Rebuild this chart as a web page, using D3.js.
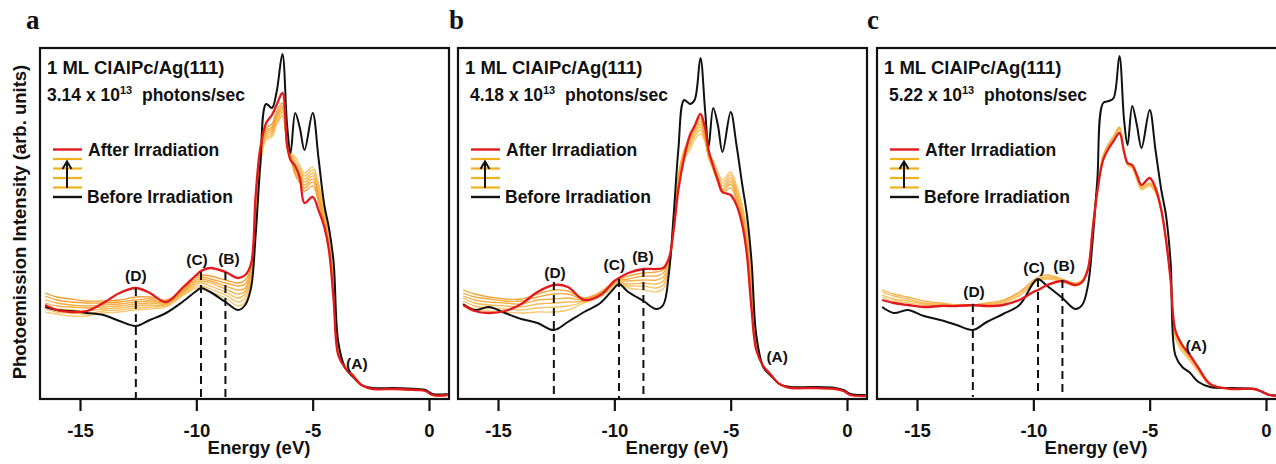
<!DOCTYPE html>
<html><head><meta charset="utf-8">
<script src="https://cdn.jsdelivr.net/npm/d3@7"></script>
<style>
body{margin:0;background:#fff}
svg{display:block}
text{font-family:"Liberation Sans",Arial,Helvetica,sans-serif;font-weight:bold;fill:#111}
text.letter{font-family:"Liberation Serif","Times New Roman",serif}
</style>
</head><body>
<svg id="chart" width="1276" height="464"></svg>
<script>
// ---------------- data ----------------
const energy = [-16.5, -16, -15.4, -14.7, -14, -13.3, -12.6, -12, -11.3, -10.6, -10, -9.8, -9.4, -8.75, -8.2, -7.9, -7.65, -7.45, -7.25, -7.0, -6.75, -6.55, -6.3, -6.1, -5.95, -5.75, -5.55, -5.35, -5.0, -4.75, -4.5, -4.3, -4.1, -3.9, -3.6, -3.3, -2.9, -2.4, -1.5, -0.5, -0.15, 0.15, 0.8];

const panelLetters = ["a", "b", "c"];
const sampleTitle = "1 ML ClAlPc/Ag(111)";
const fluxValues = ["3.14", "4.18", "5.22"];
const fluxExponent = "13";
const fluxUnit = "photons/sec";
const legendLabels = ["After Irradiation", "Before Irradiation"];
const xTicks = [-15, -10, -5, 0];
const xTitle = "Energy (eV)";
const yTitle = "Photoemission Intensity (arb. units)";
const peakNames = ["(D)", "(C)", "(B)"];
const peakEnergies = [-12.6, -9.8, -8.75];

// panel a : 3.14e13
const beforeA = [93, 90, 89, 87, 85, 79, 74, 80, 87, 98, 109, 112, 108, 98, 90, 95, 112, 165, 235, 296, 292, 308, 346, 275, 247, 287, 272, 250, 287, 242, 195, 172, 138, 58, 32, 24, 15, 12, 12, 11, 10, 6, 6];
const afterA = [95, 90, 88, 89, 97, 107, 112, 107, 98, 112, 125, 129, 132, 128, 122, 125, 136, 205, 252, 277, 285, 295, 307, 255, 240, 234, 222, 197, 203, 190, 173, 150, 100, 45, 32, 25, 15, 11, 11, 10, 9, 5, 5];
const midA1 = [88, 86, 84, 84, 87, 88, 90, 91, 93, 104, 112, 111, 108, 102, 94, 98, 115, 178, 235, 260, 263, 275, 283, 258, 248, 243, 235, 227, 233, 217, 193, 162, 128, 52, 32, 25, 15, 11, 11, 10, 9, 5, 5];
const midA2 = [91, 88, 87, 86, 89, 90, 92, 93, 94, 105, 114, 114, 111, 105, 98, 102, 118, 182, 237, 262, 265, 277, 285, 257, 247, 240, 232, 224, 230, 214, 190, 160, 123, 50, 32, 25, 15, 11, 11, 10, 9, 5, 5];
const midA3 = [94, 91, 90, 89, 91, 92, 94, 95, 95, 106, 116, 117, 114, 108, 102, 106, 121, 186, 239, 264, 267, 279, 288, 256, 246, 237, 229, 221, 227, 211, 187, 158, 118, 49, 32, 26, 15, 11, 11, 10, 9, 5, 5];
const midA4 = [97, 94, 93, 92, 93, 94, 96, 97, 96, 107, 118, 119, 117, 111, 106, 109, 124, 190, 241, 266, 269, 282, 290, 255, 245, 234, 226, 218, 224, 208, 184, 156, 113, 48, 32, 26, 15, 11, 11, 10, 9, 5, 5];
const midA5 = [100, 97, 95, 94, 95, 96, 98, 99, 97, 108, 120, 121, 119, 114, 110, 112, 127, 194, 243, 268, 271, 284, 292, 254, 244, 231, 223, 215, 221, 205, 181, 154, 109, 47, 32, 26, 15, 11, 11, 10, 9, 5, 5];
const midA6 = [104, 100, 98, 97, 97, 98, 100, 101, 98, 109, 122, 123, 121, 117, 114, 116, 130, 198, 245, 270, 273, 286, 294, 253, 243, 228, 220, 212, 218, 202, 178, 152, 105, 46, 32, 26, 15, 11, 11, 10, 9, 5, 5];
const midA7 = [107, 103, 101, 99, 99, 100, 103, 103, 100, 110, 124, 125, 124, 120, 117, 120, 132, 202, 248, 272, 276, 289, 297, 252, 242, 225, 217, 209, 214, 198, 175, 150, 102, 45, 32, 26, 15, 11, 11, 10, 9, 5, 5];

// panel b : 4.18e13
const beforeB = [96, 90, 93, 87, 81, 77, 70, 78, 88, 97, 112, 116, 108, 99, 91, 95, 128, 185, 250, 300, 296, 300, 342, 290, 253, 292, 275, 248, 288, 255, 215, 185, 138, 65, 33, 25, 16, 13, 13, 12, 10, 6, 5];
const afterB = [95, 89, 87, 89, 96, 108, 115, 113, 100, 105, 119, 122, 127, 131, 131, 132, 142, 170, 210, 242, 265, 274, 286, 272, 250, 234, 220, 208, 205, 195, 175, 145, 90, 50, 34, 26, 16, 12, 12, 11, 9, 5, 4];
const midB1 = [96, 91, 89, 88, 87, 88, 88, 90, 97, 103, 114, 116, 112, 110, 108, 111, 130, 172, 215, 240, 250, 260, 266, 258, 245, 240, 228, 220, 228, 215, 195, 170, 125, 60, 34, 26, 16, 12, 12, 11, 9, 5, 4];
const midB2 = [99, 94, 92, 91, 90, 92, 93, 94, 98, 104, 115, 117, 114, 114, 112, 115, 132, 174, 217, 242, 253, 263, 270, 259, 245, 238, 225, 217, 225, 212, 192, 167, 120, 58, 34, 26, 16, 12, 12, 11, 9, 5, 4];
const midB3 = [102, 97, 95, 94, 93, 96, 97, 98, 99, 105, 116, 118, 116, 117, 116, 119, 134, 176, 219, 244, 256, 266, 273, 260, 244, 236, 223, 214, 222, 209, 189, 163, 113, 56, 34, 26, 16, 12, 12, 11, 9, 5, 4];
const midB4 = [104, 100, 98, 97, 96, 100, 101, 102, 100, 106, 117, 119, 119, 120, 120, 123, 136, 178, 221, 246, 259, 269, 276, 261, 244, 234, 221, 211, 219, 206, 186, 159, 106, 54, 34, 26, 16, 12, 12, 11, 9, 5, 4];
const midB5 = [107, 103, 101, 99, 99, 103, 106, 106, 101, 107, 118, 120, 121, 124, 124, 127, 138, 180, 223, 248, 261, 271, 279, 262, 243, 232, 219, 209, 216, 203, 183, 155, 100, 52, 34, 26, 16, 12, 12, 11, 9, 5, 4];
const midB6 = [110, 106, 103, 101, 101, 106, 110, 109, 102, 108, 119, 121, 124, 127, 128, 130, 140, 182, 225, 250, 263, 273, 282, 263, 243, 230, 217, 207, 212, 200, 180, 150, 94, 51, 34, 26, 16, 12, 12, 11, 9, 5, 4];

// panel c : 5.22e13
const beforeC = [93, 87, 90, 84, 80, 75, 70, 78, 86, 95, 117, 121, 114, 102, 91, 95, 115, 160, 220, 297, 299, 302, 344, 280, 255, 294, 275, 252, 290, 250, 210, 185, 138, 45, 33, 28, 18, 13, 12, 11, 8, 5, 5];
const afterC = [100, 97, 95, 93, 94, 94, 95, 94, 95, 100, 108, 110, 115, 119, 115, 118, 131, 170, 208, 240, 252, 259, 267, 248, 237, 235, 225, 215, 222, 212, 190, 160, 120, 70, 55, 46, 32, 16, 11, 11, 8, 5, 4];
const midC1 = [103, 99, 97, 95, 94, 94, 94, 95, 97, 104, 116, 119, 121, 118, 114, 117, 132, 172, 212, 242, 254, 261, 270, 248, 235, 232, 220, 210, 214, 207, 188, 162, 118, 62, 48, 40, 28, 15, 11, 11, 8, 5, 4];
const midC2 = [105, 101, 99, 96, 95, 94, 94, 96, 98, 105, 117, 120, 122, 119, 115, 118, 132, 173, 213, 243, 255, 262, 271, 248, 235, 232, 221, 211, 215, 208, 189, 162, 119, 64, 50, 42, 29, 15, 11, 11, 8, 5, 4];
const midC3 = [108, 104, 101, 97, 96, 95, 95, 96, 99, 107, 118, 121, 123, 120, 116, 119, 133, 174, 214, 244, 256, 263, 272, 249, 236, 233, 222, 212, 216, 209, 190, 163, 120, 66, 52, 43, 30, 15, 11, 11, 8, 5, 4];
const midC4 = [110, 106, 103, 99, 97, 95, 95, 97, 100, 108, 120, 123, 125, 121, 117, 120, 133, 175, 215, 245, 257, 264, 273, 249, 236, 233, 223, 213, 217, 210, 191, 163, 120, 68, 53, 44, 31, 15, 11, 11, 8, 5, 4];

// dashed marker extents (top, bottom intensity) for D, C, B
const markTopA = [112, 128, 128], markBotA = [1, 1, 1];
const markTopB = [118, 121, 131], markBotB = [6, 1, 5];
const markTopC = [96, 121, 120], markBotC = [3, 5, 5];

// peak label anchors (energy, intensity) for D, C, B, A
const labelNames = ["(D)", "(C)", "(B)", "(A)"];
const labelEA = [-12.6, -9.97, -8.6, -3.1], labelIA = [125, 141, 142, 37];
const labelEB = [-12.55, -10.0, -8.77, -3.0], labelIB = [128, 136, 144, 44];
const labelEC = [-12.55, -9.97, -8.68, -3.0], labelIC = [109, 133, 135, 55];

// ---------------- layout / style ----------------
const W = 1276, H = 464;
const panelLefts = [40, 458, 877];
const letterDx = [-14, -9, -10];
const fluxDx = [7, 12, 12];
const panelW = 409, plotTop = 48, plotBottom = 399;
const xDomain = [-16.72, 0.86];
const yDomain = [1, 352];
const orangeColors = ["#F8C872", "#F7BF5E", "#F6B850", "#F5B146", "#F4AA3D", "#F3A436", "#F19E30"];

const panels = [
  {before: beforeA, after: afterA, mids: [midA1, midA2, midA3, midA4, midA5, midA6, midA7], mt: markTopA, mb: markBotA, le: labelEA, li: labelIA},
  {before: beforeB, after: afterB, mids: [midB1, midB2, midB3, midB4, midB5, midB6], mt: markTopB, mb: markBotB, le: labelEB, li: labelIB},
  {before: beforeC, after: afterC, mids: [midC1, midC2, midC3, midC4], mt: markTopC, mb: markBotC, le: labelEC, li: labelIC}
];

const svg = d3.select("#chart");
svg.append("rect").attr("width", W).attr("height", H).attr("fill", "#fff");

panels.forEach((p, k) => {
  const L = panelLefts[k];
  const x = d3.scaleLinear().domain(xDomain).range([L, L + panelW]);
  const y = d3.scaleLinear().domain(yDomain).range([plotBottom, plotTop]);
  const g = svg.append("g");

  g.append("clipPath").attr("id", "clip" + k)
    .append("rect").attr("x", L).attr("y", plotTop).attr("width", panelW).attr("height", plotBottom - plotTop);

  const line = d3.line()
    .x((d, i) => x(energy[i]))
    .y(d => y(d))
    .curve(d3.curveCatmullRom.alpha(0.5));

  const plot = g.append("g").attr("clip-path", `url(#clip${k})`);

  p.mids.forEach((arr, i) => {
    plot.append("path").datum(arr).attr("d", line)
      .attr("fill", "none").attr("stroke", orangeColors[i % orangeColors.length])
      .attr("stroke-width", 1.3).attr("stroke-linejoin", "round");
  });
  plot.append("path").datum(p.before).attr("d", line)
    .attr("fill", "none").attr("stroke", "#111").attr("stroke-width", 2).attr("stroke-linejoin", "round");
  plot.append("path").datum(p.after).attr("d", line)
    .attr("fill", "none").attr("stroke", "#E3191C").attr("stroke-width", 2.3).attr("stroke-linejoin", "round");

  // dashed peak markers
  peakEnergies.forEach((e, i) => {
    plot.append("line")
      .attr("x1", x(e)).attr("x2", x(e))
      .attr("y1", y(p.mt[i])).attr("y2", y(p.mb[i]))
      .attr("stroke", "#111").attr("stroke-width", 2).attr("stroke-dasharray", "8,5");
  });

  // peak labels
  labelNames.forEach((t, i) => {
    g.append("text").attr("x", x(p.le[i])).attr("y", y(p.li[i])).attr("dy", "0.36em")
      .attr("text-anchor", "middle").attr("font-size", 15.5).text(t);
  });

  // frame
  g.append("rect").attr("x", L).attr("y", plotTop).attr("width", panelW).attr("height", plotBottom - plotTop)
    .attr("fill", "none").attr("stroke", "#111").attr("stroke-width", 2.2);

  // x axis
  const ax = g.append("g").attr("transform", `translate(0,${plotBottom})`)
    .call(d3.axisBottom(x).tickValues(xTicks).tickSize(12).tickPadding(13).tickFormat(d => String(d)));
  ax.select(".domain").remove();
  ax.selectAll(".tick line").attr("stroke", "#111").attr("stroke-width", 2.2);
  ax.selectAll(".tick text").style("font-size", "18.5px").attr("fill", "#111");

  g.append("text").attr("x", L + 219).attr("y", 454).attr("text-anchor", "middle")
    .attr("font-size", 18.5).text(xTitle);

  // panel letter
  g.append("text").attr("class", "letter").attr("x", L + letterDx[k]).attr("y", 29)
    .attr("font-size", 27).text(panelLetters[k]);

  // sample title and flux
  g.append("text").attr("x", L + 7).attr("y", 74).attr("font-size", 18.5).text(sampleTitle);
  const ft = g.append("text").attr("x", L + fluxDx[k]).attr("y", 101).attr("font-size", 17.5);
  ft.append("tspan").text(fluxValues[k] + " x 10");
  ft.append("tspan").attr("font-size", 11).attr("dy", -7).text(fluxExponent);
  ft.append("tspan").attr("dy", 7).text("\u00a0\u00a0" + fluxUnit);

  // legend
  const lx1 = L + 13, lx2 = L + 42;
  g.append("line").attr("x1", lx1).attr("x2", lx2).attr("y1", 149.5).attr("y2", 149.5)
    .attr("stroke", "#E3191C").attr("stroke-width", 2.4);
  [159, 168.5, 178, 187.5].forEach(yy => {
    g.append("line").attr("x1", lx1).attr("x2", lx2).attr("y1", yy).attr("y2", yy)
      .attr("stroke", "#F0B21A").attr("stroke-width", 2.2);
  });
  g.append("line").attr("x1", lx1).attr("x2", lx2).attr("y1", 197).attr("y2", 197)
    .attr("stroke", "#111").attr("stroke-width", 2.4);
  const axx = L + 27;
  g.append("line").attr("x1", axx).attr("x2", axx).attr("y1", 188).attr("y2", 162.5)
    .attr("stroke", "#111").attr("stroke-width", 2);
  g.append("path").attr("d", `M${axx - 4.5},${169} L${axx},${161.5} L${axx + 4.5},${169}`)
    .attr("fill", "none").attr("stroke", "#111").attr("stroke-width", 2);
  g.append("text").attr("x", L + 48).attr("y", 155.5).attr("font-size", 17.5).text(legendLabels[0]);
  g.append("text").attr("x", L + 47).attr("y", 203).attr("font-size", 17.5).text(legendLabels[1]);
});

// y axis title
svg.append("text").attr("transform", "translate(26,222) rotate(-90)")
  .attr("text-anchor", "middle").attr("font-size", 18.5).text(yTitle);
</script>
</body></html>
